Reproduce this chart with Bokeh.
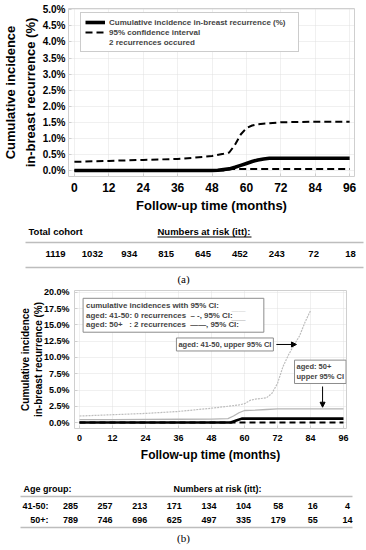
from bokeh.plotting import figure
from bokeh.layouts import column
from bokeh.models import (Range1d, FixedTicker, PrintfTickFormatter, Legend, LegendItem,
                          Label, Arrow, NormalHead)
from bokeh.embed import file_html
from bokeh.resources import INLINE
from bokeh.core.properties import value

FONT = "Liberation Sans"
SERIF = "Liberation Serif"
W = 366

# ---------------- data: panel (a) ----------------
x_ticks = [0, 12, 24, 36, 48, 60, 72, 84, 96]
a_est_months = [0, 48, 50, 52, 54, 56, 58, 60, 62, 64, 66, 68, 96]
a_est_pct = [0, 0, 0.01, 0.03, 0.05, 0.10, 0.16, 0.22, 0.28, 0.33, 0.36, 0.38, 0.38]
a_upper_months = [0, 12, 24, 36, 42, 48, 52, 54, 56, 58, 60, 62, 64, 68, 72, 84, 96]
a_upper_pct = [0.27, 0.30, 0.33, 0.36, 0.40, 0.45, 0.52, 0.56, 0.80, 1.12, 1.32, 1.40, 1.44, 1.47, 1.50, 1.52, 1.52]
a_lower_months = [0, 52, 54, 96]
a_lower_pct = [0, 0, 0.05, 0.05]
risk_months = [0, 12, 24, 36, 48, 60, 72, 84, 96]
risk_total = [1119, 1032, 934, 815, 645, 452, 243, 72, 18]

# ---------------- data: panel (b) ----------------
b_4150_upper_months = [0, 6, 12, 18, 24, 30, 36, 42, 48, 54, 58, 60, 62, 64, 68, 70, 72, 74, 76, 78, 80, 82, 84]
b_4150_upper_pct = [1.0, 1.1, 1.2, 1.3, 1.4, 1.55, 1.7, 1.95, 2.2, 2.5, 2.7, 2.9, 3.4, 3.6, 3.8, 4.5, 6.0, 8.6, 10.4, 11.9, 13.3, 15.4, 17.2]
b_50_upper_months = [0, 12, 24, 36, 48, 54, 56, 58, 60, 64, 68, 72, 84, 96]
b_50_upper_pct = [0.45, 0.45, 0.47, 0.50, 0.52, 0.60, 1.00, 1.50, 1.85, 1.90, 2.00, 2.10, 2.10, 2.10]
b_4150_est_months = [0, 96]
b_4150_est_pct = [0, 0]
b_50_est_months = [0, 55, 57, 59, 96]
b_50_est_pct = [0, 0, 0.3, 0.6, 0.6]
risk_4150 = [285, 257, 213, 171, 134, 104, 58, 16, 4]
risk_50 = [789, 746, 696, 625, 497, 335, 179, 55, 14]

GRID = "#e0e0e0"
FRAME = "#cfcfcf"


def style_chart(p, xfs, yfs, titlefs, ylabfs, xstand, xlabstand, ystand, ylabstand, ylh):
    p.xaxis.ticker = FixedTicker(ticks=x_ticks)
    for ax in (p.xaxis[0], p.yaxis[0]):
        ax.axis_line_color = None
        ax.major_tick_line_color = FRAME
        ax.major_tick_in = 3
        ax.major_tick_out = 0
        ax.minor_tick_line_color = FRAME
        ax.minor_tick_in = 2
        ax.minor_tick_out = 0
        ax.major_label_text_font = FONT
        ax.major_label_text_font_style = "bold"
        ax.major_label_text_color = "black"
        ax.axis_label_text_font = FONT
        ax.axis_label_text_font_style = "bold"
        ax.axis_label_text_color = "black"
    p.xaxis.major_label_text_font_size = xfs
    p.yaxis.major_label_text_font_size = yfs
    p.xaxis.axis_label_text_font_size = titlefs
    p.yaxis.axis_label_text_font_size = ylabfs
    p.xaxis.major_label_standoff = xstand
    p.xaxis.axis_label_standoff = xlabstand
    p.yaxis.major_label_standoff = ystand
    p.yaxis.axis_label_standoff = ylabstand
    p.yaxis.axis_label_text_line_height = ylh
    p.yaxis.formatter = PrintfTickFormatter(format="%.1f%%")
    p.xgrid.ticker = FixedTicker(ticks=x_ticks)
    for g in (p.xgrid[0], p.ygrid[0]):
        g.grid_line_color = GRID
        g.grid_line_dash = "1 1"
    p.outline_line_color = FRAME
    p.background_fill_color = "white"
    p.border_fill_color = "white"


# ================= panel (a) chart =================
pA = figure(width=W, height=215, x_range=Range1d(-2.06, 97.7), y_range=Range1d(-0.186, 5.04),
            output_backend="svg", toolbar_location=None, frame_align=False,
            min_border_left=63, min_border_right=12, min_border_top=8, min_border_bottom=38)
pA.yaxis.ticker = FixedTicker(ticks=[0, 0.5, 1.0, 1.5, 2.0, 2.5, 3.0, 3.5, 4.0, 4.5, 5.0])
pA.xaxis.axis_label = "Follow-up time (months)"
pA.yaxis.axis_label = "Cumulative incidence\nin-breast recurrence (%)"
style_chart(pA, "12px", "10px", "13px", "13px", 6, 3, 3, 2, 1.3)

rA_lo = pA.line(a_lower_months, a_lower_pct, line_color="black", line_width=2, line_dash="7 4")
rA_up = pA.line(a_upper_months, a_upper_pct, line_color="black", line_width=2, line_dash="7 4")
rA_est = pA.line(a_est_months, a_est_pct, line_color="black", line_width=3.6)
rA_dummy = pA.line([0], [0], line_alpha=0)

legA = Legend(items=[
    LegendItem(label="Cumulative incidence in-breast recurrence (%)", renderers=[rA_est]),
    LegendItem(label="95% confidence interval", renderers=[rA_up]),
    LegendItem(label="2 recurrences occured", renderers=[rA_dummy]),
], location=(12, 124))
legA.label_text_font = FONT
legA.label_text_font_style = "bold"
legA.label_text_font_size = "8px"
legA.glyph_width = 20
legA.glyph_height = 10
legA.label_height = 10
legA.label_width = 185
legA.label_standoff = 4
legA.spacing = 0
legA.padding = 4
legA.margin = 0
legA.border_line_color = "#999999"
legA.border_line_width = 1
legA.background_fill_alpha = 1
pA.add_layout(legA)


def table_fig(h, x0, x1):
    t = figure(width=W, height=h, x_range=Range1d(x0, x1), y_range=Range1d(h, 0),
               output_backend="svg", toolbar_location=None, frame_align=False,
               x_axis_location=None, y_axis_location=None,
               min_border_left=0, min_border_right=0, min_border_top=0, min_border_bottom=0)
    t.grid.visible = False
    t.outline_line_color = None
    return t


# ================= panel (a) table =================
A0, A1 = -17.9, 101.2
tA = table_fig(70, A0, A1)


def txa(px):
    return A0 + px * (A1 - A0) / W


tA.text(x=[txa(28)], y=[16], text=["Total cohort"], text_font=value(FONT), text_font_style="bold",
        text_font_size="9.5px", text_align="left", text_baseline="middle")
tA.text(x=[txa(157)], y=[16], text=["Numbers at risk (itt):"], text_font=value(FONT),
        text_font_style="bold", text_font_size="9.5px", text_align="left", text_baseline="middle")
tA.segment(x0=[txa(157)], y0=[21.5], x1=[txa(251)], y1=[21.5], line_color="black", line_width=1)
tA.segment(x0=[txa(25), txa(25)], y0=[27, 52], x1=[txa(363), txa(363)], y1=[27, 52],
           line_color="#bdbdbd", line_width=1.6)
tA.text(x=risk_months, y=[38] * len(risk_months), text=[str(v) for v in risk_total],
        text_font=value(FONT), text_font_style="bold", text_font_size="9.5px",
        text_align="center", text_baseline="middle")
tA.text(x=[txa(183)], y=[63], text=["(a)"], text_font=value(SERIF), text_font_size="11px",
        text_align="center", text_baseline="middle")

# ================= panel (b) chart =================
pB = figure(width=W, height=185, x_range=Range1d(-1.82, 97.1), y_range=Range1d(-0.92, 20.3),
            output_backend="svg", toolbar_location=None, frame_align=False,
            min_border_left=74, min_border_right=20, min_border_top=5, min_border_bottom=42)
pB.yaxis.ticker = FixedTicker(ticks=[0, 2.5, 5, 7.5, 10, 12.5, 15, 17.5, 20])
pB.xaxis.axis_label = "Follow-up time (months)"
pB.yaxis.axis_label = "Cumulative incidence\nin-breast recurrence (%)"
style_chart(pB, "9px", "9px", "12px", "10px", 6, 4, 5, -3, 1.2)

pB.line(b_4150_upper_months, b_4150_upper_pct, line_color="#bdbdbd", line_width=1.2, line_dash="2 1")
pB.line(b_50_upper_months, b_50_upper_pct, line_color="#b5b5b5", line_width=1.3)
pB.line(b_4150_est_months, b_4150_est_pct, line_color="black", line_width=2, line_dash="6 4")
pB.line(b_50_est_months, b_50_est_pct, line_color="black", line_width=2.6)

NB = "\u00a0"
leg_text = ("cumulative incidences with 95% CI:\n"
            "aged: 41-50: 0 recurrences " + NB + "\u2013 -, 95% CI:" + NB * 10 + "\n"
            "aged: 50+" + NB * 3 + ": 2 recurrences " + NB + "\u2014\u2014, 95% CI:" + NB * 10)
pB.add_layout(Label(x=1.3, y=19.1, text=leg_text, text_font=FONT, text_font_style="bold",
                    text_font_size="7.9px", text_align="left", text_baseline="top",
                    text_line_height=1.05, padding=3, border_line_color="#8c8c8c",
                    border_line_width=1, background_fill_color="white"))
pB.add_layout(Label(x=55.3, y=17.15, text="\u2014\u2014", text_font=FONT, text_font_size="7px",
                    text_color="#d4d4d4", text_baseline="middle"))
pB.add_layout(Label(x=55.3, y=15.9, text="\u2014\u2014", text_font=FONT, text_font_size="7px",
                    text_color="#b0b0b0", text_baseline="middle"))

pB.add_layout(Label(x=71.6, y=12.0, text="aged: 41-50, upper 95% CI", text_font=FONT,
                    text_font_style="bold", text_font_size="7.5px", text_align="right",
                    text_baseline="middle", x_offset=-3, padding=2,
                    border_line_color="#8c8c8c", border_line_width=1, background_fill_color="white"))
pB.add_layout(Arrow(end=NormalHead(size=5, fill_color="black", line_color="black"),
                    x_start=71.6, y_start=12.0, x_end=78.9, y_end=12.0,
                    line_color="black", line_width=1))
pB.add_layout(Label(x=78.2, y=5.54, text="aged: 50+\nupper 95% CI", text_font=FONT,
                    text_font_style="bold", text_font_size="7.5px", text_align="left",
                    text_baseline="bottom", y_offset=3, padding=2, text_line_height=1.15,
                    border_line_color="#8c8c8c", border_line_width=1, background_fill_color="white"))
pB.add_layout(Arrow(end=NormalHead(size=5, fill_color="black", line_color="black"),
                    x_start=88.4, y_start=5.54, x_end=88.4, y_end=2.35,
                    line_color="black", line_width=1))

# ================= panel (b) table =================
B0, B1 = -24.26, 102.6
tB = table_fig(80, B0, B1)


def txb(px):
    return B0 + px * (B1 - B0) / W


tB.text(x=[txb(23)], y=[18], text=["Age group:"], text_font=value(FONT), text_font_style="bold",
        text_font_size="9px", text_align="left", text_baseline="middle")
tB.text(x=[txb(173)], y=[18], text=["Numbers at risk (itt):"], text_font=value(FONT),
        text_font_style="bold", text_font_size="9px", text_align="left", text_baseline="middle")
tB.segment(x0=[txb(20), txb(20)], y0=[26, 57], x1=[txb(352), txb(352)], y1=[26, 57],
           line_color="#bdbdbd", line_width=1.4)
tB.text(x=[txb(48), txb(48)], y=[35, 49], text=["41-50:", "50+:"], text_font=value(FONT),
        text_font_style="bold", text_font_size="9px", text_align="right", text_baseline="middle")
tB.text(x=risk_months, y=[35] * len(risk_months), text=[str(v) for v in risk_4150],
        text_font=value(FONT), text_font_style="bold", text_font_size="9px",
        text_align="center", text_baseline="middle")
tB.text(x=risk_months, y=[49] * len(risk_months), text=[str(v) for v in risk_50],
        text_font=value(FONT), text_font_style="bold", text_font_size="9px",
        text_align="center", text_baseline="middle")
tB.text(x=[txb(183)], y=[67], text=["(b)"], text_font=value(SERIF), text_font_size="11px",
        text_align="center", text_baseline="middle")

layout = column(pA, tA, pB, tB, spacing=0)
open("out.html", "w").write(file_html(layout, INLINE))
